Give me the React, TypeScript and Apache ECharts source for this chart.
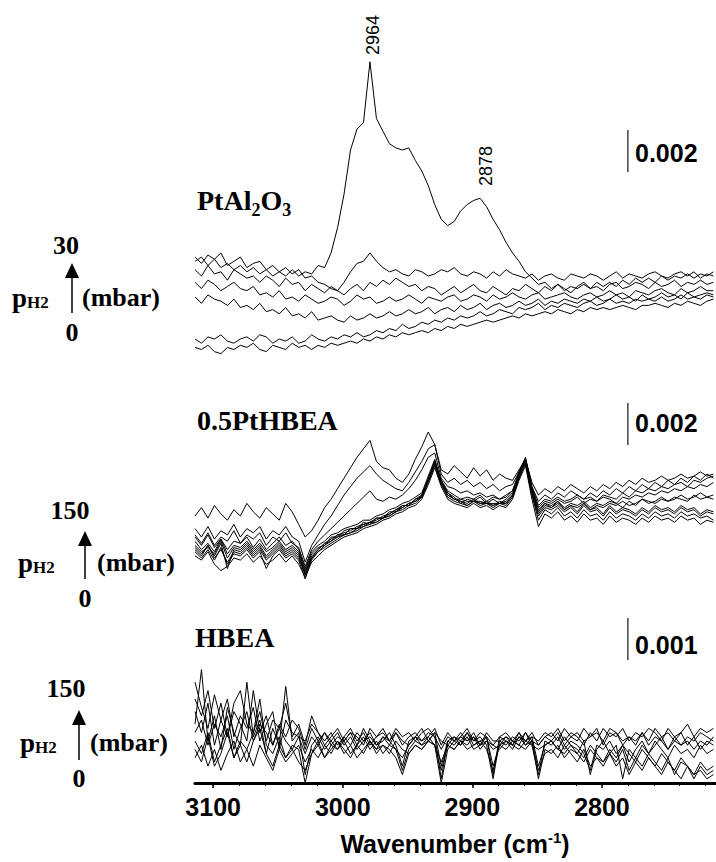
import React, { useEffect, useRef } from "react";
import * as echarts from "echarts";

// Sampling grid of the spectra (cm-1), every 5 cm-1 from 3114 to 2714
const WAVENUMBERS: number[] = Array.from({ length: 81 }, (_, i) => 3114 - 5 * i);
const X_TICK_LABELS = [3100, 3000, 2900, 2800];
const X_MINOR_TICKS = [3100, 3080, 3060, 3040, 3020, 3000, 2980, 2960, 2940, 2920, 2900, 2880, 2860, 2840, 2820, 2800, 2780, 2760, 2740, 2720];
const PANEL_TITLES = ["PtAl2O3", "0.5PtHBEA", "HBEA"];
const PRESSURE_MAX = ["30", "150", "150"];
const PRESSURE_MIN = ["0", "0", "0"];
const SCALE_BARS = [0.002, 0.002, 0.001]; // absorbance
const PEAK_LABELS = [2964, 2878];
const ABS_UNIT = 1e-4; // values below are absorbance / 1e-4 (offset per panel)

// ---- PtAl2O3 (absorbance x 1e4) ----
const PTAL_1 = [47,49,45,48,44,46,43,45,42,44, 41,43,40,42,40,43,40,42,41,45, 44,51,63,79,100,110,113,142,115,109,
  103,101,100,101,95,90,83,74,67,64, 66,71,74,76,77,73,67,62,56,51, 47,42,39,36,37,34,36,33,35,34,
  36,34,37,35,37,35,38,36,39,37, 39,37,40,38,40,39,41,39,41,40, 42];
const PTAL_2 = [49,46,50,48,51,45,47,49,44,46, 47,43,45,42,44,41,43,39,40,37, 36,34,33,37,42,46,47,51,47,44,
  42,43,41,40,43,42,40,41,43,42, 44,41,40,42,41,39,42,40,43,41, 40,39,41,38,40,41,39,38,41,40,
  39,41,40,38,40,42,39,41,40,39, 41,42,40,39,41,42,40,42,39,41, 40];
const PTAL_3 = [43,40,45,41,42,38,43,41,39,40, 37,40,38,35,39,36,37,33,36,34, 32,35,33,31,34,36,33,37,35,38,
  36,39,37,35,36,33,35,34,31,33, 35,32,34,36,33,32,35,33,31,34, 33,36,34,32,35,33,36,34,32,35,
  37,34,35,33,36,37,34,35,37,36, 34,37,35,36,38,35,37,36,38,36, 37];
const PTAL_4 = [37,34,38,36,33,35,37,34,33,35, 31,32,30,33,29,30,28,31,29,27, 28,30,29,26,28,31,29,30,27,28,
  30,28,29,31,29,27,30,29,28,30, 31,28,29,31,30,28,31,29,30,32, 30,29,31,32,29,30,31,32,30,29,
  31,32,30,31,33,31,32,30,33,32, 31,33,34,32,31,34,32,33,35,33, 33];
const PTAL_5 = [30,27,31,29,28,26,29,25,26,24, 27,23,24,22,25,21,22,20,23,19, 20,21,19,18,21,19,20,22,20,21,
  23,21,22,24,22,23,25,22,24,25, 23,26,24,25,27,24,26,27,25,26, 28,26,27,29,26,28,27,29,28,27,
  29,28,30,28,29,31,29,30,28,31, 29,30,32,30,31,29,32,30,31,32, 31];
const PTAL_6 = [10,8,11,10,12,9,8,10,11,9, 12,11,8,10,9,11,8,9,12,10, 9,11,10,12,11,13,11,12,14,13,
  15,14,17,15,16,18,17,19,18,20, 19,21,20,21,23,21,22,24,23,22, 25,24,25,27,24,26,25,27,26,25,
  27,28,26,27,29,27,28,27,29,28, 29,28,30,28,29,31,29,30,29,31, 30];
const PTAL_7 = [6,5,7,4,3,6,5,7,6,8, 5,4,7,6,5,8,6,7,5,7, 6,8,7,8,9,8,10,9,11,10,
  12,11,13,12,13,14,13,15,14,16, 15,17,16,17,18,19,18,19,20,21, 20,22,21,22,23,22,24,23,22,24,
  23,25,24,25,24,25,26,25,24,26, 26,27,26,25,27,26,28,27,26,28, 29];

// ---- 0.5PtHBEA (absorbance x 1e4) ----
const PTHBEA_1 = [25,22,26,21,27,15,24,23,26,22,25,20,23,26,22,24,21, 12,
  20,24,27,29,31,32,33,35,36,37,38,40,41,43,44,46,47,50,58, 66,
  56,50,48,47,46,48,46,47,45,47,46, 50,59,67,52,42,
  46,45,47,44,46,45,47,44,46,45,47,46,44,47,45,48,46,47,49,47,48,50,48,49,51,49,50];
const PTHBEA_2 = [28,24,27,23,29,22,26,25,28,24,27,23,25,28,24,26,23, 14,
  22,25,26,30,30,33,34,34,37,36,39,39,42,42,45,45,48,49,57, 65,
  57,51,49,46,48,47,49,46,48,46,48, 51,60,66,53,44,
  47,46,48,46,47,49,46,48,47,49,48,46,49,48,50,49,51,50,52,51,53,52,54,53,55,54,56];
const PTHBEA_3 = [23,20,24,19,25,17,22,21,24,20,23,15,21,24,20,22,19, 10,
  19,23,26,28,30,31,32,34,35,36,37,39,40,42,43,45,46,49,56, 64,
  55,49,47,46,45,47,45,46,44,46,45, 49,58,65,50,38,
  43,41,44,40,42,39,43,40,41,38,42,39,41,40,38,41,39,42,40,41,39,42,40,41,39,40,38];
const PTHBEA_4 = [30,26,31,25,29,24,28,27,30,25,29,24,27,30,26,28,24, 15,
  23,26,28,31,32,34,35,36,38,38,40,41,43,44,46,47,49,51,59, 67,
  57,52,50,48,49,48,50,47,49,48,49, 52,61,68,54,45,
  48,47,49,47,48,50,48,49,47,50,49,48,51,49,52,51,53,52,54,53,55,56,54,57,56,58,59];
const PTHBEA_5 = [21,19,23,17,14,16,20,19,22,18,21,17,19,22,18,21,17, 11,
  18,21,24,26,28,30,31,32,34,35,36,38,39,41,42,44,45,48,55, 63,
  54,48,46,45,44,46,44,45,43,45,44, 48,57,64,48,35,
  41,39,42,38,40,37,41,38,39,36,40,37,39,38,36,39,37,40,38,39,37,40,38,39,36,38,37];
const PTHBEA_6 = [26,23,25,22,28,20,25,24,27,23,26,21,24,27,23,25,22, 13,
  21,24,27,28,31,31,34,34,36,37,39,39,41,43,45,45,48,50,57, 66,
  56,51,48,48,47,47,47,46,46,46,47, 50,60,66,51,41,
  45,44,46,43,45,44,46,43,45,44,46,45,47,45,46,48,47,46,48,47,49,48,47,50,48,49,48];
const PTHBEA_7 = [24,21,26,20,24,18,23,22,25,21,24,19,22,25,21,23,20, 12,
  20,23,25,27,29,31,32,33,35,37,37,39,40,42,44,46,47,49,57, 65,
  55,50,48,47,45,47,46,46,45,46,46, 49,58,66,50,40,
  44,43,45,42,44,41,45,42,43,40,44,41,43,42,40,43,41,44,42,43,41,44,42,43,40,42,41];
const PTHBEA_8 = [40,44,39,45,41,38,43,40,46,42,39,44,41,38,46,42,36, 30,
  33,38,44,48,53,58,63,68,72,76,66,63,62,58,56,60,67,73,80, 74,
  62,60,64,61,58,63,59,62,57,60,58, 57,62,67,56,50,
  53,51,54,52,55,53,51,54,52,55,53,56,54,57,55,58,56,57,59,57,58,60,58,59,61,59,60];
const PTHBEA_9 = [34,30,35,29,33,31,36,30,34,32,35,29,33,31,35,30,28, 18,
  26,31,36,40,45,50,54,58,61,64,60,57,55,53,52,56,61,66,72, 74,
  60,56,58,55,57,54,56,53,55,52,54, 55,61,67,54,47,
  50,48,51,49,52,50,48,51,49,52,50,53,51,54,52,55,53,56,54,57,55,58,56,59,57,60,58];
const PTHBEA_10 = [31,27,32,26,30,28,33,27,31,29,32,26,30,28,32,27,25, 16,
  24,28,31,34,37,40,43,46,49,52,48,47,49,48,50,53,57,62,68, 70,
  58,54,53,51,52,50,51,49,50,48,50, 52,60,66,52,43,
  46,44,47,43,45,42,46,43,44,41,45,42,44,43,41,44,42,45,43,44,42,45,43,44,41,43,42];

// ---- HBEA (absorbance x 1e4) ----
const HBEA_1 = [14,27,10,16,8,18,12,9,24,11,15,7,13,9,23,10,12,
  2,9,11,8,10,12,9,11,8,10,12,9,11,10,8,6,9,11,10,12,11, 1,
  10,11,9,12,10,11,9, 1, 10,9,11,10,12,9, 2,
  10,9,11,8,10,9,7,3,9,8,10,7,9,5,8,10,7,9,11,8,10,12,9,11,8,10,9];
const HBEA_2 = [20,16,22,13,19,11,17,14,10,22,12,16,9,14,11,15,13,
  8,13,10,12,9,11,10,12,9,13,10,8,11,9,12,10,9,11,13,10,12, 10,
  9,11,10,12,9,10,11, 2, 11,10,9,11,10,12, 9,
  11,12,10,13,11,12,10,11,13,9,12,11,13,10,12,11,13,12,10,13,11,12,14,11,13,12,13];
const HBEA_3 = [10,7,12,5,9,13,6,10,8,12,20,9,7,11,6,9,8,
  0,7,10,6,9,8,10,7,9,11,8,10,7,9,8,3,8,10,9,11,9, 0,
  8,10,9,11,8,9,10, 8, 9,10,8,11,9,10, 1,
  8,7,9,6,8,7,5,8,6,4,7,5,8,3,6,4,7,5,3,6,2,5,4,1,4,2,3];
const HBEA_4 = [17,12,19,9,15,20,11,16,13,18,10,14,17,8,15,12,11,
  10,14,12,9,11,13,10,12,11,9,13,11,12,10,13,11,12,10,12,13,11, 8,
  11,10,12,10,11,9,12, 10, 10,11,9,12,10,11, 10,
  12,11,13,10,12,11,9,12,10,13,11,12,9,11,10,12,9,11,10,8,11,9,10,8,10,9,11];
const HBEA_5 = [6,9,4,8,3,7,10,5,8,4,9,6,3,8,5,7,9,
  5,8,6,9,7,10,8,6,9,7,10,8,9,7,10,8,7,9,8,10,9, 5,
  9,8,10,9,11,8,10, 9, 8,10,9,8,10,9, 8,
  9,10,8,7,9,8,6,9,7,5,8,6,9,7,5,8,6,4,7,5,3,6,4,2,5,3,4];
const HBEA_6 = [24,18,13,21,15,11,19,22,14,12,17,10,15,13,19,11,14,
  9,16,12,10,12,9,11,13,10,12,9,11,13,10,12,9,11,12,10,11,13, 9,
  12,10,11,13,10,12,11, 9, 11,12,10,9,12,10, 9,
  11,10,12,9,11,10,13,11,12,10,13,12,10,11,9,12,10,13,11,12,10,9,11,10,12,11,10];
const HBEA_7 = [12,15,9,14,11,16,8,13,17,10,14,12,9,13,10,8,11,
  7,11,9,12,10,8,11,9,12,10,11,9,10,12,9,4,10,11,9,10,12, 4,
  10,9,11,10,12,9,11, 4, 9,11,10,12,9,11, 4,
  9,10,8,11,9,7,10,2,8,10,7,9,1,8,6,9,7,10,8,6,9,7,8,6,9,7,8];
const HBEA_8 = [8,5,11,4,7,12,6,9,5,10,13,7,4,9,6,8,5,
  3,7,9,6,8,10,7,9,6,8,10,7,9,8,6,2,7,9,8,10,9, 3,
  9,8,10,8,9,10,8, 3, 9,8,10,9,8,10, 3,
  7,8,6,9,7,5,8,4,6,5,7,4,6,2,5,3,6,4,2,5,3,1,4,2,3,1,2];

const PANEL_SPECTRA: number[][][] = [
  [PTAL_1, PTAL_2, PTAL_3, PTAL_4, PTAL_5, PTAL_6, PTAL_7],
  [PTHBEA_1, PTHBEA_2, PTHBEA_3, PTHBEA_4, PTHBEA_5, PTHBEA_6, PTHBEA_7, PTHBEA_8, PTHBEA_9, PTHBEA_10],
  [HBEA_1, HBEA_2, HBEA_3, HBEA_4, HBEA_5, HBEA_6, HBEA_7, HBEA_8],
];

const SERIF = "'Liberation Serif', 'Times New Roman', serif";
const SANS = "'Liberation Sans', Arial, sans-serif";

// layout
const X_MIN = 2712;
const X_MAX = 3114;
const GRIDS = [
  { top: 45, height: 315, yMax: 150 },
  { top: 390, height: 210, yMax: 100 },
  { top: 615, height: 168, yMax: 40 },
];
const SCALE_BAR_X = 2780;
const SCALE_BAR_BASE = [89.5, 73.8, 29.3];
const SCALE_TEXT_Y = [153, 423, 645];
const TITLE_POS = [
  { x: 197, y: 199 },
  { x: 197, y: 420 },
  { x: 195, y: 637 },
];
const PRESSURE_LAYOUT = [
  { maxX: 66, maxY: 245, arrowX: 72, headTop: 263, lineBottom: 313, pX: 12, mbarX: 82, midY: 297, zeroX: 72, zeroY: 332 },
  { maxX: 70, maxY: 510, arrowX: 85, headTop: 531, lineBottom: 579, pX: 18, mbarX: 97, midY: 562, zeroX: 85, zeroY: 598 },
  { maxX: 66, maxY: 688, arrowX: 79, headTop: 710, lineBottom: 760, pX: 20, mbarX: 90, midY: 742, zeroX: 79, zeroY: 778 },
];
const PEAK_LABEL_POS = [
  { x: 373, y: 35 },
  { x: 486, y: 166 },
];

function buildOption() {
  const series: any[] = [];
  PANEL_SPECTRA.forEach((traces, p) => {
    traces.forEach((trace) => {
      series.push({
        type: "line",
        xAxisIndex: p,
        yAxisIndex: p,
        data: trace.map((v, i) => [WAVENUMBERS[i], v]),
        showSymbol: false,
        symbol: "none",
        silent: true,
        lineStyle: { color: "#000", width: 1 },
        clip: true,
      });
    });
    const size = SCALE_BARS[p] / ABS_UNIT;
    series.push({
      type: "line",
      xAxisIndex: p,
      yAxisIndex: p,
      data: [
        [SCALE_BAR_X, SCALE_BAR_BASE[p]],
        [SCALE_BAR_X, SCALE_BAR_BASE[p] + size],
      ],
      showSymbol: false,
      symbol: "none",
      silent: true,
      lineStyle: { color: "#444", width: 1.5 },
    });
  });

  const graphic: any[] = [];
  PEAK_LABELS.forEach((lab, k) => {
    graphic.push({
      type: "text",
      x: PEAK_LABEL_POS[k].x,
      y: PEAK_LABEL_POS[k].y,
      rotation: Math.PI / 2,
      style: {
        text: String(lab),
        fill: "#000",
        fontSize: 18,
        fontFamily: SANS,
        align: "center",
        verticalAlign: "middle",
      },
    });
  });
  PANEL_TITLES.forEach((t, p) => {
    const isAl = t === "PtAl2O3";
    graphic.push({
      type: "text",
      x: TITLE_POS[p].x,
      y: TITLE_POS[p].y,
      style: isAl
        ? {
            text: "{b|PtAl}{s|2}{b|O}{s|3}",
            fill: "#000",
            align: "left",
            verticalAlign: "middle",
            rich: {
              b: { fontSize: 28, fontFamily: SERIF, fontWeight: "bold", fill: "#000", lineHeight: 30, verticalAlign: "bottom" },
              s: { fontSize: 18, fontFamily: SERIF, fontWeight: "bold", fill: "#000", lineHeight: 30, verticalAlign: "bottom", padding: [0, 0, -5, 0] },
            },
          }
        : {
            text: t,
            fill: "#000",
            fontSize: 28,
            fontFamily: SERIF,
            fontWeight: "bold",
            align: "left",
            verticalAlign: "middle",
          },
    });
  });
  SCALE_BARS.forEach((s, p) => {
    graphic.push({
      type: "text",
      x: 635,
      y: SCALE_TEXT_Y[p],
      style: {
        text: s.toFixed(3),
        fill: "#000",
        fontSize: 25,
        fontFamily: SANS,
        fontWeight: "bold",
        align: "left",
        verticalAlign: "middle",
      },
    });
  });
  PRESSURE_LAYOUT.forEach((L, p) => {
    const serifText = (text: string, x: number, y: number, align: string, size = 26) => ({
      type: "text",
      x,
      y,
      style: { text, fill: "#000", fontSize: size, fontFamily: SERIF, fontWeight: "bold", align, verticalAlign: "middle" },
    });
    graphic.push(serifText(PRESSURE_MAX[p], L.maxX, L.maxY, "center"));
    graphic.push(serifText(PRESSURE_MIN[p], L.zeroX, L.zeroY, "center"));
    graphic.push(serifText("(mbar)", L.mbarX, L.midY, "left"));
    graphic.push({
      type: "text",
      x: L.pX,
      y: L.midY,
      style: {
        text: "{p|p}{h|H2}",
        fill: "#000",
        align: "left",
        verticalAlign: "middle",
        rich: {
          p: { fontSize: 27, fontFamily: SERIF, fontWeight: "bold", fill: "#000", lineHeight: 28, verticalAlign: "bottom" },
          h: { fontSize: 17, fontFamily: SERIF, fontWeight: "bold", fill: "#000", lineHeight: 28, verticalAlign: "bottom" },
        },
      },
    });
    const headBottom = L.headTop + 15;
    graphic.push({
      type: "polygon",
      shape: { points: [[L.arrowX - 7, headBottom], [L.arrowX, L.headTop], [L.arrowX + 7, headBottom]] },
      style: { fill: "#000" },
    });
    graphic.push({
      type: "line",
      shape: { x1: L.arrowX, y1: headBottom - 1, x2: L.arrowX, y2: L.lineBottom },
      style: { stroke: "#000", lineWidth: 1.5 },
    });
  });
  graphic.push({
    type: "text",
    x: 455,
    y: 843,
    style: {
      text: "{a|Wavenumber (cm}{u|-1}{a|)}",
      fill: "#000",
      align: "center",
      verticalAlign: "middle",
      rich: {
        a: { fontSize: 25, fontFamily: SANS, fontWeight: "bold", fill: "#000", lineHeight: 26, verticalAlign: "bottom" },
        u: { fontSize: 15, fontFamily: SANS, fontWeight: "bold", fill: "#000", lineHeight: 26, verticalAlign: "top" },
      },
    },
  });

  const hiddenX = (g: number) => ({
    type: "value",
    gridIndex: g,
    min: X_MIN,
    max: X_MAX,
    inverse: true,
    show: false,
  });

  return {
    animation: false,
    backgroundColor: "#fff",
    grid: GRIDS.map((g) => ({ left: 195, right: 0, top: g.top, height: g.height, containLabel: false })),
    xAxis: [
      hiddenX(0),
      hiddenX(1),
      {
        type: "value",
        gridIndex: 2,
        min: X_MIN,
        max: X_MAX,
        inverse: true,
        position: "bottom",
        axisLine: { show: true, onZero: false, lineStyle: { color: "#000", width: 3 } },
        axisTick: { show: true, customValues: X_TICK_LABELS, length: 5, lineStyle: { color: "#000", width: 1.5 } },
        axisLabel: {
          show: true,
          customValues: X_TICK_LABELS,
          formatter: (v: number) => String(v),
          fontSize: 25,
          fontWeight: "bold",
          fontFamily: SANS,
          color: "#000",
          margin: 11,
        },
        splitLine: { show: false },
      },
      {
        type: "value",
        gridIndex: 2,
        min: X_MIN,
        max: X_MAX,
        inverse: true,
        position: "bottom",
        axisLine: { show: false, onZero: false },
        axisTick: { show: true, customValues: X_MINOR_TICKS, length: 3, lineStyle: { color: "#000", width: 1 } },
        axisLabel: { show: false },
        splitLine: { show: false },
      },
    ],
    yAxis: GRIDS.map((g, i) => ({
      type: "value",
      gridIndex: i,
      min: 0,
      max: g.yMax,
      show: false,
    })),
    series,
    graphic,
  };
}

export default function App() {
  const ref = useRef<HTMLDivElement>(null);
  useEffect(() => {
    document.body.style.margin = "0";
    const chart = echarts.init(ref.current!, undefined, { renderer: "svg" });
    chart.setOption(buildOption() as any);
    return () => chart.dispose();
  }, []);
  return <div ref={ref} style={{ width: 716, height: 862 }} />;
}
